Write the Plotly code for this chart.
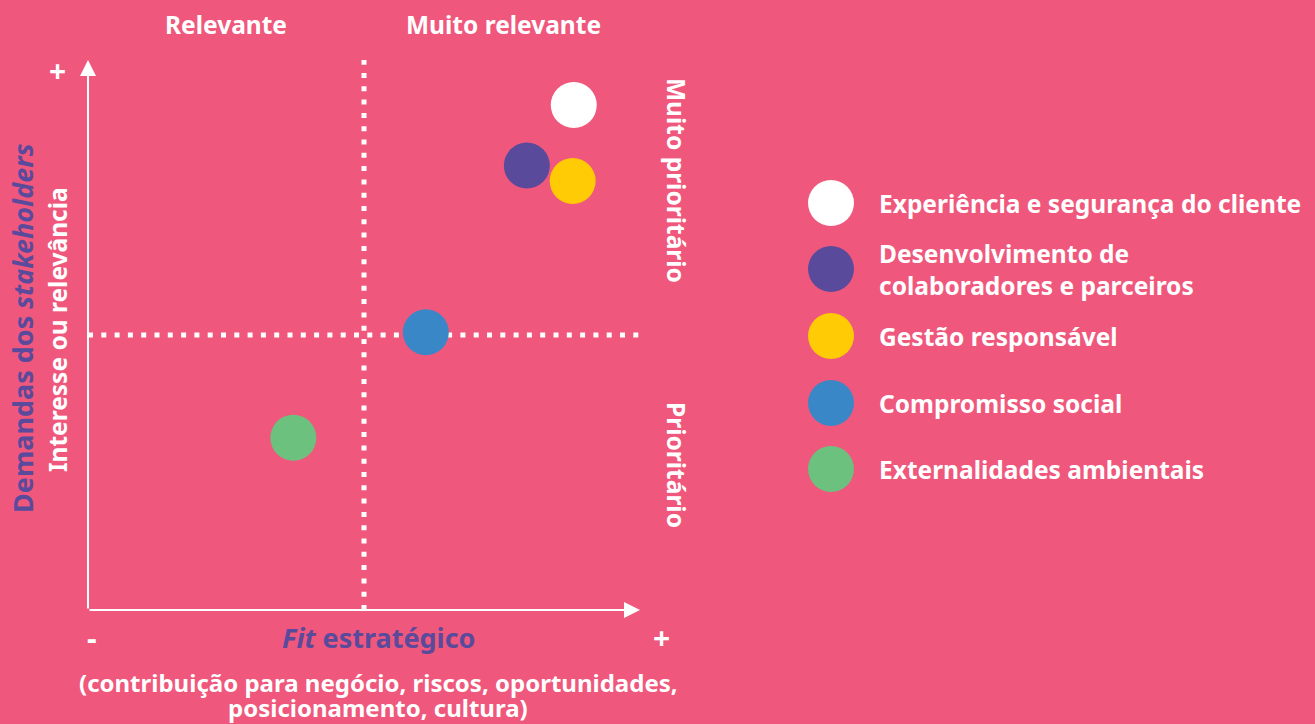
import numpy as np
import plotly.graph_objects as go

# temas materiais: fit estratégico (x) vs demandas dos stakeholders (y), escala 0-10
temas = [
    "Experiência e segurança do cliente",
    "Desenvolvimento de<br>colaboradores e parceiros",
    "Gestão responsável",
    "Compromisso social",
    "Externalidades ambientais",
]
fit_estrategico = [8.8, 7.95, 8.78, 6.12, 3.72]
demandas = [9.18, 8.08, 7.8, 5.05, 3.13]
cores = ["#FFFFFF", "#5A4A9C", "#FFCB05", "#3A87C8", "#6CC17F"]

BG = "#EF587C"
ROXO = "#5A4A9C"
FONTE = "Noto Sans"
TAM = 24.5

W, H = 1315, 724
L, R, T, B = 88, 640, 60, 610  # área do gráfico em pixels


def px(x):
    return (x - L) / (R - L)


def py(y):
    return (B - y) / (B - T)


fig = go.Figure()

fig.add_trace(go.Scatter(
    x=fit_estrategico, y=demandas,
    mode="markers",
    marker=dict(size=46, color=cores, line=dict(width=0)),
    text=[t.replace("<br>", " ") for t in temas],
    hoverinfo="text",
    showlegend=False,
    cliponaxis=False,
))

shapes = []
annotations = []

# linhas pontilhadas dos quadrantes
shapes.append(dict(type="line", xref="x", yref="y", x0=5, x1=5, y0=0, y1=10,
                   line=dict(color="white", width=5, dash="5px,8.3px"), layer="below"))
shapes.append(dict(type="line", xref="x", yref="paper", x0=0, x1=10.1, y0=0.5, y1=0.5,
                   line=dict(color="white", width=5, dash="5px,8.3px"), layer="below"))

# eixos com setas
annotations.append(dict(x=0, y=10, ax=0, ay=0, xref="x", yref="y", axref="x", ayref="y",
                        text="", showarrow=True, arrowhead=2, arrowsize=1.6,
                        arrowwidth=2, arrowcolor="white"))
annotations.append(dict(x=10, y=0, ax=0, ay=0, xref="x", yref="y", axref="x", ayref="y",
                        text="", showarrow=True, arrowhead=2, arrowsize=1.6,
                        arrowwidth=2, arrowcolor="white"))


def texto(x, y, s, size=TAM, color="white", angle=0):
    annotations.append(dict(x=px(x), y=py(y), xref="paper", yref="paper", text=s,
                            showarrow=False, textangle=angle, xanchor="center",
                            yanchor="middle",
                            font=dict(family=FONTE, size=size, color=color)))


texto(226, 25, "<b>Relevante</b>")
texto(503, 25, "<b>Muito relevante</b>")
texto(57, 70, "<b>+</b>", size=30)
texto(92, 637, "<b>-</b>", size=30)
texto(661, 637, "<b>+</b>", size=30)
texto(378, 637, "<b><i>Fit</i> estratégico</b>", size=27, color=ROXO)
texto(378, 682, "<b>(contribuição para negócio, riscos, oportunidades,</b>", size=24)
texto(378, 707, "<b>posicionamento, cultura)</b>", size=24)
texto(22, 328, "<b>Demandas dos <i>stakeholders</i></b>", size=27, color=ROXO, angle=-90)
texto(57, 330, "<b>Interesse ou relevância</b>", angle=-90)
texto(677, 180, "<b>Muito prioritário</b>", angle=90)
texto(677, 465, "<b>Prioritário</b>", angle=90)

# legenda desenhada à direita
legenda_y = [203, 269, 336, 403, 469]
for nome, cor, ly in zip(temas, cores, legenda_y):
    shapes.append(dict(type="circle", xref="paper", yref="paper",
                       xsizemode="pixel", ysizemode="pixel",
                       xanchor=px(831), yanchor=py(ly),
                       x0=-23, x1=23, y0=-23, y1=23,
                       fillcolor=cor, line=dict(width=0)))
    linhas = nome.split("<br>")
    offs = np.arange(len(linhas)) * 32 - (len(linhas) - 1) * 16
    for linha, off in zip(linhas, offs):
        annotations.append(dict(x=px(877), y=py(ly + off), xref="paper", yref="paper",
                                text="<b>" + linha + "</b>", showarrow=False,
                                xanchor="left", yanchor="middle",
                                font=dict(family=FONTE, size=TAM, color="white")))

fig.update_layout(
    width=W, height=H,
    paper_bgcolor=BG, plot_bgcolor=BG,
    margin=dict(l=L, r=W - R, t=T, b=H - B, pad=0),
    xaxis=dict(range=[0, 10], visible=False, fixedrange=True),
    yaxis=dict(range=[0, 10], visible=False, fixedrange=True),
    shapes=shapes,
    annotations=annotations,
    showlegend=False,
)

# remove a margem padrão da página
fig.write_html("out.html", config={"displayModeBar": False},
               post_script="document.body.style.margin='0';")
